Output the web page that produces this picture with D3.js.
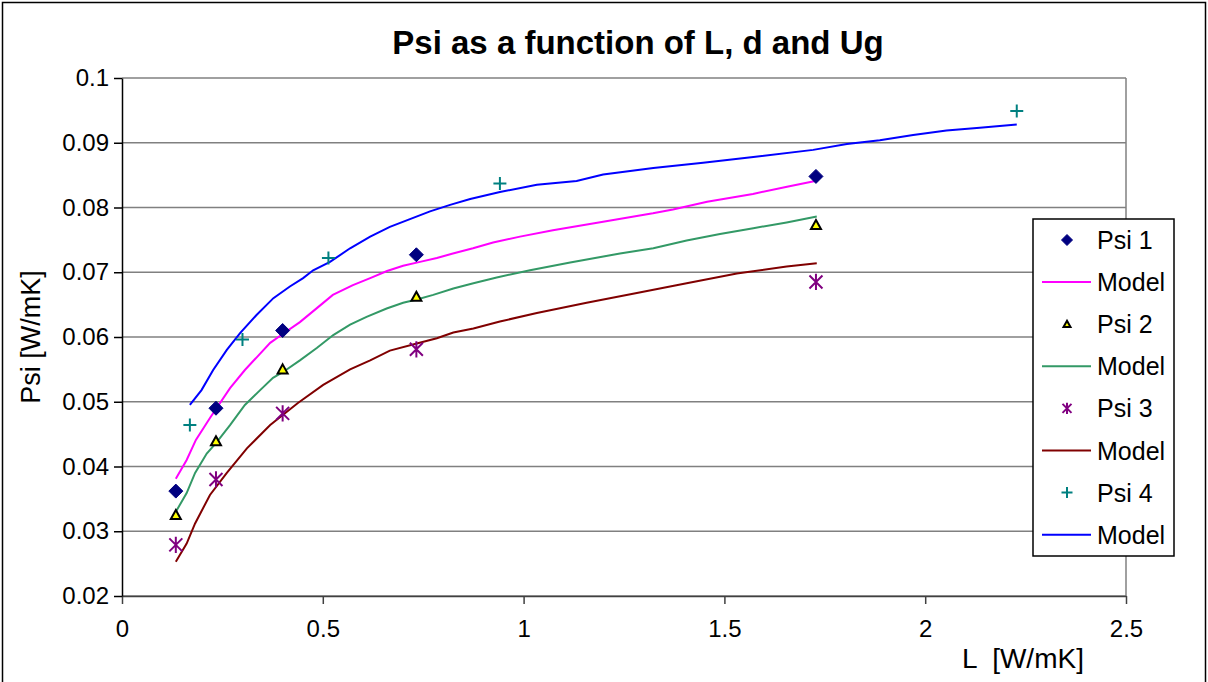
<!DOCTYPE html>
<html>
<head>
<meta charset="utf-8">
<script src="https://cdn.jsdelivr.net/npm/d3@7"></script>
<style>
  body { margin: 0; background: #fff; }
  svg { display: block; font-family: "Liberation Sans", Arial, sans-serif; }
</style>
</head>
<body>
<svg id="chart" width="1208" height="682"></svg>
<script>
// texts and ticks
const chartTitle = "Psi as a function of L, d and Ug";
const xTitle = "L  [W/mK]";
const yTitle = "Psi [W/mK]";
const xTickValues = [0, 0.5, 1, 1.5, 2, 2.5];
const xTickLabels = ["0", "0.5", "1", "1.5", "2", "2.5"];
const yTickValues = [0.02, 0.03, 0.04, 0.05, 0.06, 0.07, 0.08, 0.09, 0.1];
const yTickLabels = ["0.02", "0.03", "0.04", "0.05", "0.06", "0.07", "0.08", "0.09", "0.1"];

// measured points
const psi1 = [[0.134, 0.0362], [0.234, 0.0490], [0.400, 0.0610], [0.733, 0.0727], [1.728, 0.0848]];
const psi2 = [[0.134, 0.0325], [0.234, 0.0439], [0.400, 0.0550], [0.733, 0.0662], [1.728, 0.0773]];
const psi3 = [[0.134, 0.0279], [0.234, 0.0380], [0.400, 0.0482], [0.733, 0.0581], [1.728, 0.0685]];
const psi4 = [[0.169, 0.0464], [0.300, 0.0596], [0.514, 0.0722], [0.941, 0.0837], [2.228, 0.0949]];

// model curves
const model1 = [[0.134, 0.0381], [0.161, 0.0410], [0.184, 0.0441], [0.219, 0.0475], [0.269, 0.0521],
  [0.306, 0.0549], [0.336, 0.0569], [0.369, 0.0591], [0.401, 0.0605], [0.443, 0.0623], [0.486, 0.0645],
  [0.525, 0.0665], [0.575, 0.0680], [0.618, 0.0691], [0.660, 0.0702], [0.700, 0.0710], [0.742, 0.0716],
  [0.784, 0.0722], [0.824, 0.0729], [0.874, 0.0737], [0.924, 0.0746], [0.991, 0.0755], [1.073, 0.0765],
  [1.198, 0.0778], [1.322, 0.0791], [1.372, 0.0797], [1.457, 0.0809], [1.571, 0.0821], [1.656, 0.0832],
  [1.726, 0.0841]];
const model2 = [[0.134, 0.0330], [0.161, 0.0359], [0.182, 0.0390], [0.211, 0.0420], [0.234, 0.0436],
  [0.269, 0.0464], [0.306, 0.0495], [0.344, 0.0518], [0.376, 0.0537], [0.401, 0.0546], [0.443, 0.0564],
  [0.485, 0.0583], [0.526, 0.0603], [0.568, 0.0619], [0.609, 0.0631], [0.659, 0.0644], [0.700, 0.0653],
  [0.734, 0.0658], [0.775, 0.0665], [0.825, 0.0675], [0.875, 0.0683], [0.933, 0.0692], [1.016, 0.0703],
  [1.116, 0.0715], [1.240, 0.0729], [1.323, 0.0737], [1.406, 0.0749], [1.489, 0.0759], [1.572, 0.0768],
  [1.655, 0.0777], [1.730, 0.0786]];
const model3 = [[0.134, 0.0253], [0.161, 0.0281], [0.182, 0.0312], [0.219, 0.0356], [0.261, 0.0390],
  [0.311, 0.0428], [0.369, 0.0464], [0.438, 0.0498], [0.501, 0.0526], [0.568, 0.0550], [0.618, 0.0564],
  [0.667, 0.0579], [0.734, 0.0590], [0.784, 0.0598], [0.825, 0.0607], [0.875, 0.0613], [0.941, 0.0624],
  [1.033, 0.0637], [1.157, 0.0653], [1.282, 0.0668], [1.406, 0.0683], [1.531, 0.0698], [1.655, 0.0709],
  [1.730, 0.0714]];
const model4 = [[0.169, 0.0495], [0.198, 0.0518], [0.227, 0.0549], [0.261, 0.0580], [0.294, 0.0606],
  [0.335, 0.0634], [0.377, 0.0660], [0.418, 0.0678], [0.451, 0.0691], [0.476, 0.0703], [0.518, 0.0716],
  [0.568, 0.0737], [0.618, 0.0755], [0.667, 0.0770], [0.717, 0.0782], [0.767, 0.0794], [0.817, 0.0804],
  [0.867, 0.0813], [0.941, 0.0824], [1.033, 0.0835], [1.132, 0.0841], [1.198, 0.0851], [1.323, 0.0861],
  [1.447, 0.0869], [1.572, 0.0878], [1.721, 0.0889], [1.805, 0.0898], [1.887, 0.0904], [1.970, 0.0912],
  [2.053, 0.0919], [2.136, 0.0923], [2.228, 0.0928]];

const legendLabels = ["Psi 1", "Model", "Psi 2", "Model", "Psi 3", "Model", "Psi 4", "Model"];

const margin = {top: 78, right: 82, bottom: 86, left: 122};
const outerWidth = 1208, outerHeight = 682;
const width = outerWidth - margin.left - margin.right;
const height = outerHeight - margin.top - margin.bottom;

const svg = d3.select("#chart");

// chart area frame
svg.append("rect")
  .attr("x", 2.5).attr("y", 2.5)
  .attr("width", outerWidth - 5).attr("height", outerHeight + 10)
  .attr("fill", "#fff").attr("stroke", "#000").attr("stroke-width", 1.5);

const xScale = d3.scaleLinear().domain([0, 2.5]).range([0, width]);
const yScale = d3.scaleLinear().domain([0.02, 0.1]).range([height, 0]);

const g = svg.append("g")
  .attr("transform", "translate(" + margin.left + "," + margin.top + ")");

// gridlines
g.append("g").attr("class", "grid")
  .selectAll("line").data(yTickValues).enter()
  .append("line")
  .attr("x1", 0).attr("x2", width)
  .attr("y1", d => yScale(d)).attr("y2", d => yScale(d))
  .attr("stroke", "#808080").attr("stroke-width", 1.3);

// right border of plot area
g.append("line")
  .attr("x1", width).attr("x2", width).attr("y1", 0).attr("y2", height)
  .attr("stroke", "#808080").attr("stroke-width", 1.5);

const xAxis = d3.axisBottom(xScale)
  .tickValues(xTickValues)
  .tickFormat((d, i) => xTickLabels[i])
  .tickSize(8).tickSizeOuter(0).tickPadding(16);
const yAxis = d3.axisLeft(yScale)
  .tickValues(yTickValues)
  .tickFormat((d, i) => yTickLabels[i])
  .tickSize(8).tickSizeOuter(0).tickPadding(5);

g.append("g")
  .attr("class", "axis axis--x")
  .attr("transform", "translate(0," + height + ")")
  .call(xAxis);
g.append("g")
  .attr("class", "axis axis--y")
  .call(yAxis);

g.selectAll(".axis path, .axis line").attr("stroke", "#000").attr("stroke-width", 1.5);
g.selectAll(".axis--x path, .axis--x line").attr("stroke", "#404040");
g.selectAll(".axis text")
  .attr("font-family", "Liberation Sans, Arial, sans-serif")
  .attr("font-size", 24).attr("fill", "#000");

// model lines
const line = d3.line().x(d => xScale(d[0])).y(d => yScale(d[1]));
const models = [
  {data: model1, color: "#ff00ff"},
  {data: model2, color: "#339966"},
  {data: model3, color: "#800000"},
  {data: model4, color: "#0000ff"}
];
g.append("g").classed("models", true)
  .selectAll("path").data(models).enter()
  .append("path")
  .attr("d", d => line(d.data))
  .attr("fill", "none")
  .attr("stroke", d => d.color)
  .attr("stroke-width", 2);

// marker drawing helpers
function drawDiamond(sel, r) {
  sel.append("path")
    .attr("d", "M0," + (-r) + "L" + r + ",0L0," + r + "L" + (-r) + ",0Z")
    .attr("fill", "#000080").attr("stroke", "#000080").attr("stroke-width", 1);
}
function drawTriangle(sel, r) {
  sel.append("path")
    .attr("d", "M0," + (-r) + "L" + r + "," + (r * 0.8) + "L" + (-r) + "," + (r * 0.8) + "Z")
    .attr("fill", "#ffff00").attr("stroke", "#000").attr("stroke-width", 2)
    .attr("stroke-linejoin", "miter");
}
function drawStar(sel, r) {
  sel.append("path")
    .attr("d", "M" + (-r) + "," + (-r) + "L" + r + "," + r + "M" + (-r) + "," + r + "L" + r + "," + (-r) +
      "M0," + (-r * 1.25) + "L0," + (r * 1.25))
    .attr("fill", "none").attr("stroke", "#800080").attr("stroke-width", 2);
}
function drawCross(sel, r) {
  sel.append("path")
    .attr("d", "M" + (-r) + ",0L" + r + ",0M0," + (-r) + "L0," + r)
    .attr("fill", "none").attr("stroke", "#008080").attr("stroke-width", 2);
}

const pointSeries = [
  {data: psi1, draw: drawDiamond, r: 7},
  {data: psi2, draw: drawTriangle, r: 5},
  {data: psi3, draw: drawStar, r: 6.5},
  {data: psi4, draw: drawCross, r: 6.5}
];
pointSeries.forEach(function(s) {
  g.append("g").selectAll("g").data(s.data).enter()
    .append("g")
    .attr("transform", d => "translate(" + xScale(d[0]) + "," + yScale(d[1]) + ")")
    .each(function() { s.draw(d3.select(this), s.r); });
});

// titles
svg.append("text")
  .attr("x", 638).attr("y", 54)
  .attr("text-anchor", "middle")
  .attr("font-size", 33).attr("font-weight", "bold")
  .text(chartTitle);
svg.append("text")
  .attr("x", 1023).attr("y", 668)
  .attr("text-anchor", "middle")
  .attr("font-size", 28)
  .style("white-space", "pre")
  .text(xTitle);
svg.append("text")
  .attr("transform", "translate(40," + (margin.top + height / 2) + ") rotate(-90)")
  .attr("text-anchor", "middle")
  .attr("font-size", 27)
  .text(yTitle);

// legend
const legend = svg.append("g").attr("transform", "translate(1033,219)");
legend.append("rect")
  .attr("width", 141).attr("height", 337)
  .attr("fill", "#fff").attr("stroke", "#000").attr("stroke-width", 1.5);
const legendStep = 42.1;
const legendMarkers = [
  {draw: drawDiamond, r: 5.5}, {color: "#ff00ff"},
  {draw: drawTriangle, r: 3.5}, {color: "#339966"},
  {draw: drawStar, r: 4.5}, {color: "#800000"},
  {draw: drawCross, r: 5.5}, {color: "#0000ff"}
];
legendLabels.forEach(function(label, i) {
  const cy = 21 + i * legendStep;
  const item = legend.append("g").attr("transform", "translate(0," + cy + ")");
  const m = legendMarkers[i];
  if (m.draw) {
    m.draw(item.append("g").attr("transform", "translate(34,0)"), m.r);
  } else {
    item.append("line")
      .attr("x1", 9).attr("x2", 58).attr("y1", 0).attr("y2", 0)
      .attr("stroke", m.color).attr("stroke-width", 2);
  }
  item.append("text")
    .attr("x", 64).attr("y", 0).attr("dy", "0.36em")
    .attr("font-size", 25)
    .text(label);
});
</script>
</body>
</html>
